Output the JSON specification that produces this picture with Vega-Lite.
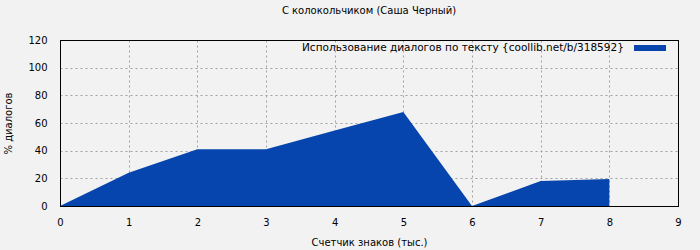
{
  "$schema": "https://vega.github.io/schema/vega-lite/v6.json",
  "width": 618,
  "height": 166,
  "autosize": "none",
  "padding": {"left": 60, "top": 40, "right": 22, "bottom": 44},
  "background": "#f2f2f2",
  "title": {"text": "С колокольчиком (Саша Черный)", "fontSize": 10, "fontWeight": "normal", "font": "DejaVu Sans", "offset": 16, "anchor": "middle", "color": "#000000"},
  "config": {
    "view": {"stroke": "#000000", "strokeWidth": 1},
    "font": "DejaVu Sans",
    "axis": {"labelFont": "DejaVu Sans", "titleFont": "DejaVu Sans", "labelFontSize": 10, "titleFontSize": 10, "titleFontWeight": "normal", "labelColor": "#000000", "titleColor": "#000000", "grid": true, "gridWidth": 1, "domainColor": "#000000", "ticks": false, "domain": true, "labelFlush": false}
  },
  "data": {"values": [
    {"x": 0, "y": 0, "series": "Использование диалогов по тексту {coollib.net/b/318592}"},
    {"x": 1, "y": 24, "series": "Использование диалогов по тексту {coollib.net/b/318592}"},
    {"x": 2, "y": 41, "series": "Использование диалогов по тексту {coollib.net/b/318592}"},
    {"x": 3, "y": 41, "series": "Использование диалогов по тексту {coollib.net/b/318592}"},
    {"x": 4, "y": 54.5, "series": "Использование диалогов по тексту {coollib.net/b/318592}"},
    {"x": 5, "y": 68, "series": "Использование диалогов по тексту {coollib.net/b/318592}"},
    {"x": 6, "y": 0, "series": "Использование диалогов по тексту {coollib.net/b/318592}"},
    {"x": 7, "y": 18, "series": "Использование диалогов по тексту {coollib.net/b/318592}"},
    {"x": 8, "y": 19.5, "series": "Использование диалогов по тексту {coollib.net/b/318592}"}
  ]},
  "mark": {"type": "area", "interpolate": "linear", "opacity": 1},
  "encoding": {
    "x": {"field": "x", "type": "quantitative", "scale": {"domain": [0, 9], "nice": false, "zero": false},
      "axis": {"values": [0, 1, 2, 3, 4, 5, 6, 7, 8, 9], "title": "Счетчик знаков (тыс.)", "labelPadding": 11, "titlePadding": 10, "format": "d",
        "gridColor": {"condition": {"test": "datum.value === 9 || datum.value === 0", "value": "#000000"}, "value": "#a0a0a0"},
        "gridDash": {"condition": {"test": "datum.value === 9 || datum.value === 0", "value": []}, "value": [2, 3]}}},
    "y": {"field": "y", "type": "quantitative", "scale": {"domain": [0, 120], "nice": false},
      "axis": {"values": [0, 20, 40, 60, 80, 100, 120], "title": "% диалогов", "labelPadding": 13, "titlePadding": 14,
        "gridColor": {"condition": {"test": "datum.value === 120 || datum.value === 0", "value": "#000000"}, "value": "#a0a0a0"},
        "gridDash": {"condition": {"test": "datum.value === 120 || datum.value === 0", "value": []}, "value": [2, 3]}}},
    "fill": {"field": "series", "type": "nominal", "scale": {"range": ["#0645ad"]},
      "legend": {"title": null, "orient": "none", "legendX": 242, "legendY": -8, "symbolType": "M-1,-0.1875H1V0.1875H-1Z", "symbolSize": 1024, "symbolStrokeWidth": 0, "symbolOffset": 332, "labelOffset": -364, "labelFontSize": 10.5, "labelFont": "DejaVu Sans", "labelColor": "#000000", "labelLimit": 500, "padding": 0}}
  }
}
